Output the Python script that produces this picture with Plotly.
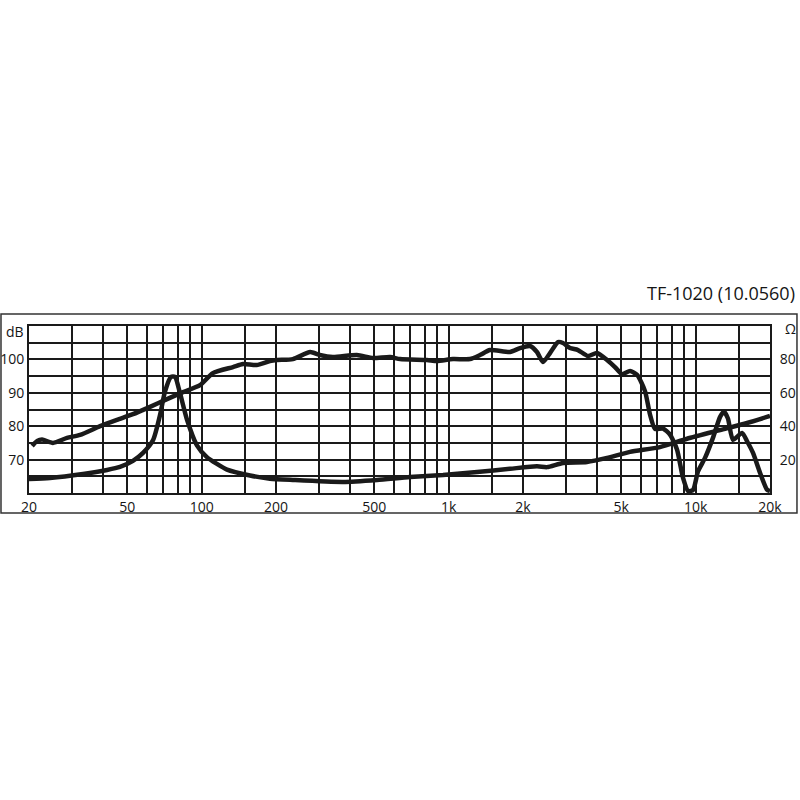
import plotly.graph_objects as go

title_text = "TF-1020 (10.0560)"

# Frequency response (dB, left axis)
resp_freq = [20.6, 21.6, 22.6, 25, 28.5, 32.2, 38.8, 45.4, 52.7, 61.8, 72.4, 84, 98.5, 111, 134, 147,
             167, 189, 202, 234, 275, 301, 340, 425, 494, 579, 636, 817, 897, 1041, 1220, 1339, 1470,
             1771, 1945, 2135, 2278, 2410, 2573, 2772, 2903, 3100, 3340, 3667, 3987, 4377, 4714, 5035,
             5424, 5790, 6237, 6535, 6846, 7379, 7874, 8404, 8891, 9315, 9756, 10225, 10913, 11751,
             12559, 13026, 13512, 14160, 15412, 16148, 17072, 18237, 19450, 20000]
resp_db = [74.1, 75.6, 76.0, 75.0, 76.5, 77.4, 80.0, 81.9, 83.6, 85.8, 88.1, 90.2, 92.3, 95.9, 97.7, 98.6,
           98.3, 99.5, 99.8, 100.1, 102.2, 101.3, 100.7, 101.3, 100.4, 100.7, 100.1, 99.8, 99.5, 100.1,
           100.1, 101.3, 102.8, 102.2, 103.4, 104.0, 102.2, 99.2, 101.9, 105.2, 104.9, 103.4, 102.8,
           101.0, 101.9, 99.8, 97.7, 95.6, 96.5, 95.4, 90.5, 83.5, 79.2, 79.3, 77.5, 73.0, 64.5, 60.6,
           60.9, 66.5, 70.5, 76.5, 82.8, 84.3, 82.3, 75.9, 78.0, 75.5, 72.0, 66.0, 61.0, 60.6]

# Impedance (Ohm, right axis)
imp_freq = [20, 24.3, 33.1, 41.4, 46.7, 52.7, 57.9, 63.6, 67.8, 71, 75.1, 78, 81.7, 87.2, 95.7, 105,
            126.7, 157, 189, 234, 373, 513, 697, 949, 1303, 1771, 2278, 2501, 2903, 3631, 4377, 5424,
            7171, 9229, 12559, 16148, 20000]
imp_ohm = [8.4, 9.0, 11.4, 13.8, 15.6, 19.2, 24.0, 31.7, 46.5, 60.5, 69.5, 69.5, 59.9, 44.0, 28.5, 21.5,
           14.0, 10.5, 8.6, 7.8, 6.6, 7.8, 9.6, 10.8, 12.6, 14.5, 16.0, 15.5, 18.0, 18.6, 21.0, 24.6,
           27.5, 32.5, 37.7, 41.9, 46.1]

x_grid = [20, 30, 40, 50, 60, 70, 80, 90, 100, 150, 200, 300, 400, 500, 600, 700, 800, 900, 1000,
          1500, 2000, 3000, 4000, 5000, 6000, 7000, 8000, 9000, 10000, 15000, 20000]
x_labels = {20: "20", 50: "50", 100: "100", 200: "200", 500: "500", 1000: "1k", 2000: "2k",
            5000: "5k", 10000: "10k", 20000: "20k"}
db_grid = [60, 65, 70, 75, 80, 85, 90, 95, 100, 105, 110]
db_labels = {70: "70", 80: "80", 90: "90", 100: "100"}
ohm_ticks = [20, 40, 60, 80]

FONT = "Open Sans"
INK = "#1a1a1a"
TXT = "#151515"

fig = go.Figure()
fig.add_trace(go.Scatter(x=resp_freq, y=resp_db, mode="lines",
                         line=dict(color=INK, width=4.5, shape="spline", smoothing=0.6),
                         showlegend=False, hoverinfo="skip"))
fig.add_trace(go.Scatter(x=imp_freq, y=imp_ohm, mode="lines", yaxis="y2",
                         line=dict(color=INK, width=4.5, shape="spline", smoothing=0.6),
                         showlegend=False, hoverinfo="skip"))

fig.update_layout(
    width=800, height=800,
    margin=dict(l=29, r=30, t=326, b=307, autoexpand=False),
    paper_bgcolor="white", plot_bgcolor="white",
    font=dict(family=FONT, color=TXT, size=14),
    xaxis=dict(type="log", range=[1.30103, 4.30103], automargin=False,
               tickvals=x_grid, ticktext=[x_labels.get(v, "") for v in x_grid],
               showgrid=True, gridcolor=INK, gridwidth=1.8,
               showline=True, linecolor=INK, linewidth=1.8, mirror=True,
               ticks="", zeroline=False, tickfont=dict(size=14, family=FONT, color=TXT)),
    yaxis=dict(range=[60, 110], tickvals=db_grid, ticktext=[db_labels.get(v, "") for v in db_grid],
               automargin=False,
               showgrid=True, gridcolor=INK, gridwidth=1.8,
               showline=True, linecolor=INK, linewidth=1.8, mirror=True,
               ticks="", zeroline=False, tickfont=dict(size=14, family=FONT, color=TXT)),
    yaxis2=dict(range=[0, 100], overlaying="y", side="right", tickvals=ohm_ticks,
                ticktext=[str(v) for v in ohm_ticks], showgrid=False, zeroline=False,
                automargin=False,
                ticks="outside", ticklen=6, tickcolor="rgba(0,0,0,0)",
                tickfont=dict(size=14, family=FONT, color=TXT)),
)

fig.add_shape(type="rect", xref="paper", yref="paper",
              x0=-0.0378, x1=1.0364, y0=-0.1198, y1=1.0719,
              line=dict(color="#333", width=1.5), layer="below")

fig.add_annotation(text="dB", xref="paper", yref="paper", x=-0.004, y=0.965,
                   xanchor="right", yanchor="middle", showarrow=False,
                   font=dict(size=14, family=FONT, color=TXT))
fig.add_annotation(text="Ω", xref="paper", yref="paper", x=1.017, y=0.985,
                   xanchor="left", yanchor="middle", showarrow=False,
                   font=dict(size=14, family=FONT, color=TXT))
fig.add_annotation(text=title_text, xref="paper", yref="paper", x=1.0364, y=1.2,
                   xanchor="right", yanchor="middle", showarrow=False,
                   font=dict(size=18, family=FONT, color=TXT))

fig.write_html("out.html", config={"displayModeBar": False},
               post_script="document.body.style.margin='0';")
